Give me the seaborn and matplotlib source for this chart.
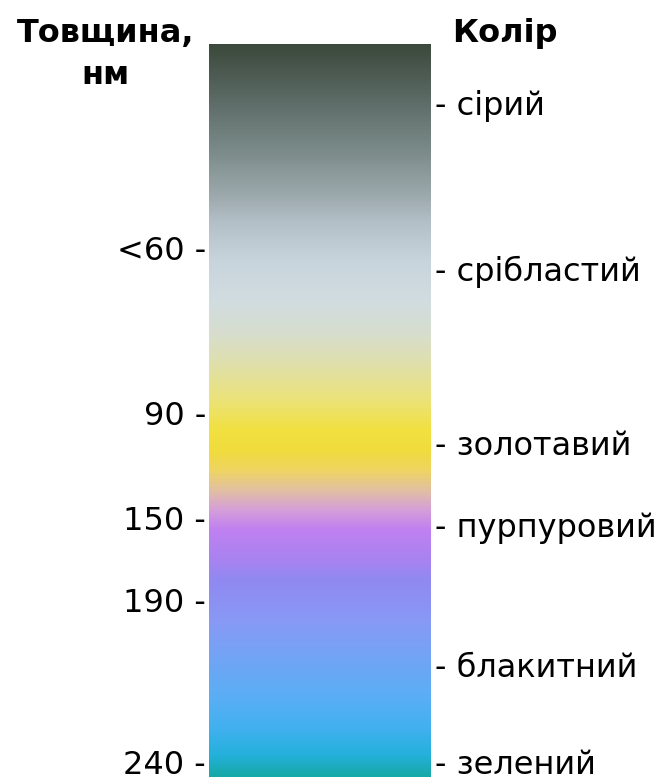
import numpy as np
import matplotlib
matplotlib.use('Agg')
import matplotlib.pyplot as plt
from matplotlib.colors import LinearSegmentedColormap
import seaborn as sns

# ── Data ─────────────────────────────────────────────────────────────────────
# positions are measured along the bar (0 = top, 733 = bottom)
BAR_LEN = 733

thickness_labels = ['<60', '90', '150', '190', '240']
thickness_pos = [204, 369, 474, 556, 718]

color_names = ['сірий', 'срібластий', 'золотавий', 'пурпуровий', 'блакитний', 'зелений']
color_pos = [59, 224, 399, 481, 621, 718]

# gradient stops along the bar (position, colour)
grad_pos = [0, 56, 106, 156, 176, 216, 256, 286, 316, 356, 386, 406, 426, 446,
            466, 486, 516, 536, 576, 616, 656, 686, 711, 733]
grad_col = ['#3b483b', '#5c6b66', '#7a8a88', '#a0acb0', '#b2bec6', '#c8d4dc',
            '#d0dcdf', '#d6ddd0', '#dedfb0', '#ebe278', '#f0e040', '#f0dc3c',
            '#eed460', '#e2c0a0', '#d49ed8', '#bf80f0', '#a882f0', '#9088f0',
            '#8898f4', '#70a4f4', '#58aef4', '#40b0ee', '#24b0dc', '#16a8a6']

# ── Plot ─────────────────────────────────────────────────────────────────────
sns.set_style('white')
plt.rcParams['font.family'] = ['DejaVu Sans']
plt.rcParams['text.color'] = 'black'
plt.rcParams['ytick.color'] = 'black'

fig = plt.figure(figsize=(6.7, 7.81), dpi=100)
ax = fig.add_axes([209 / 670, 1 - 777 / 781, 222 / 670, 733 / 781])

cmap = LinearSegmentedColormap.from_list(
    'film', [(p / BAR_LEN, c) for p, c in zip(grad_pos, grad_col)], N=1024)
strip = np.linspace(0, 1, BAR_LEN).reshape(-1, 1)
sns.heatmap(strip, cmap=cmap, vmin=0, vmax=1, cbar=False, ax=ax,
            xticklabels=False, yticklabels=False)

ax.set_xticks([])
ax.set_yticks(thickness_pos)
ax.set_yticklabels([f'{t} -' for t in thickness_labels], fontsize=23,
                   rotation=0, color='black')
ax.tick_params(axis='y', length=0, pad=2)
for s in ax.spines.values():
    s.set_visible(False)

ax2 = ax.twinx()
ax2.set_ylim(ax.get_ylim())
ax2.set_yticks(color_pos)
ax2.set_yticklabels([f'- {c}' for c in color_names], fontsize=23, color='black')
ax2.tick_params(axis='y', length=0, pad=3)
for s in ax2.spines.values():
    s.set_visible(False)

fig.text(106 / 670, 1 - 18 / 781, 'Товщина,\nнм', ha='center', va='top',
         fontsize=23, fontweight='bold', linespacing=1.45, color='black')
fig.text(505 / 670, 1 - 18 / 781, 'Колір', ha='center', va='top',
         fontsize=23, fontweight='bold', color='black')

fig.savefig('out.png', dpi=100)
